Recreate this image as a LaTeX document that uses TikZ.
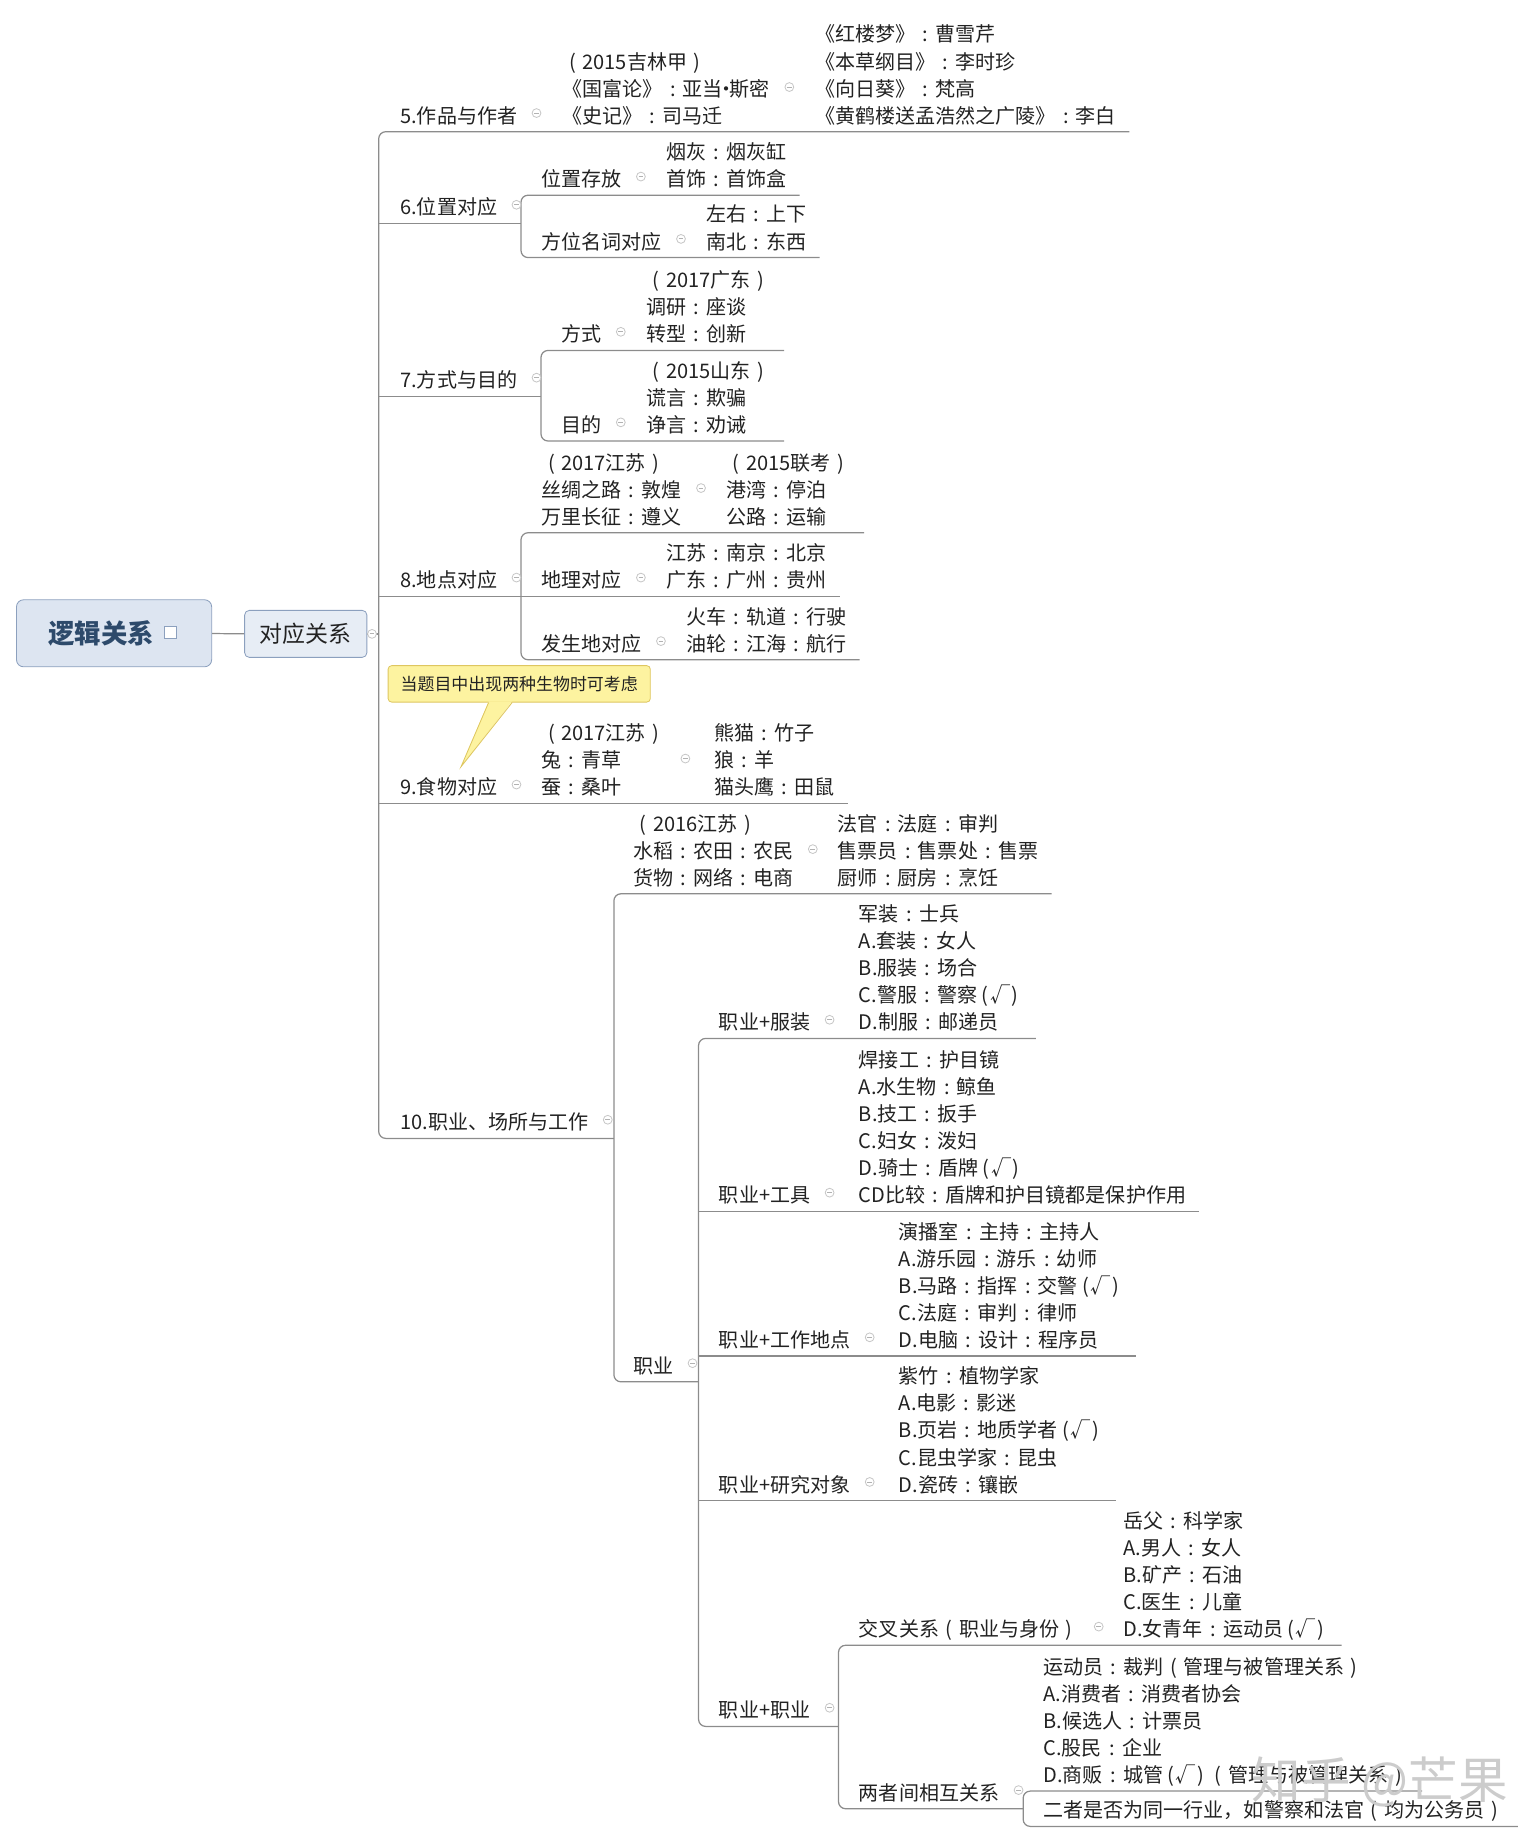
\documentclass[tikz,border=0pt]{standalone}
\usepackage{fontspec}
\setmainfont{Noto Sans CJK SC}
\usetikzlibrary{positioning,calc}
\definecolor{linec}{RGB}{140,140,140}
\definecolor{txt}{RGB}{34,34,34}
\definecolor{rootfill}{RGB}{221,229,241}
\definecolor{rootdraw}{RGB}{140,160,190}
\definecolor{rootink}{RGB}{45,74,107}
\definecolor{notefill}{RGB}{253,243,160}
\definecolor{notedraw}{RGB}{222,198,96}
% centred punctuation as in the mind map
\newcommand\cl{\makebox[1em]{:}}
\newcommand\lp{\makebox[1em]{(}}
\newcommand\rp{\makebox[1em]{)}}
\newcommand\ok{\makebox[0.75em]{(}\makebox[0.75em]{√}\makebox[0.75em]{)}}
\newcommand\mdot{\makebox[0.35em]{·}}

\begin{document}
\begin{tikzpicture}[x=0.02cm,y=-0.02cm,
    topic/.style={anchor=south west,align=left,inner xsep=0pt,inner ysep=0pt,text=txt,
      font=\fontsize{9.7}{13.1}\selectfont,execute at end node=\strut},
    fold/.style={circle,draw=black!22,fill=white,inner sep=0pt,minimum size=0.15cm,
      path picture={\draw[black!30,line width=0.4pt] ([xshift=-0.04cm]path picture bounding box.center) -- ([xshift=0.04cm]path picture bounding box.center);}},
    link/.style={draw=linec,line width=0.6pt,rounded corners=0.12cm},
    note/.style={draw=notedraw,fill=notefill,rounded corners=0.06cm,minimum width=4.46cm,minimum height=0.62cm,
      inner sep=0pt,text=txt,font=\fontsize{8.2}{10}\selectfont}]
  \useasboundingbox (0,0) rectangle (1303,1568);

  % root and first level
  \node[draw=rootdraw,fill=rootfill,rounded corners=0.12cm,minimum width=3.32cm,minimum height=1.14cm,
    text=rootink,font=\fontsize{12.8}{14}\selectfont\bfseries] (root) at (97,538.5) {逻辑关系\kern0.44cm};
  \node[draw=rootdraw,fill=white,minimum size=0.2cm,inner sep=0pt] (ricon) at (145,538) {};
  \node[draw=rootdraw,fill=rootfill!70!white,rounded corners=0.08cm,minimum width=2.08cm,minimum height=0.8cm,
    text=txt,font=\fontsize{11.1}{13}\selectfont] (sub) at (260,539) {对应关系};

  % junctions of the branches
  \coordinate (j0) at (322,539);
  \coordinate (j6) at (443,190);
  \coordinate (j7) at (460,337);
  \coordinate (j8) at (443,507);
  \coordinate (j10) at (522,968);
  \coordinate (j10b) at (594,1175);
  \coordinate (j11e) at (713,1468);
  \coordinate (j12b) at (870,1538);
  \coordinate (tipend) at (392,652);

  % 5
  \node[topic] (n5) at (340,112) {5.作品与作者};
  \node[topic] (n5a) at (478,112) {\lp 2015吉林甲\rp\\《国富论》\cl 亚当\mdot 斯密\\《史记》\cl 司马迁};
  \node[topic] (n5b) at (693,112) {《红楼梦》\cl 曹雪芹\\《本草纲目》\cl 李时珍\\《向日葵》\cl 梵高\\《黄鹤楼送孟浩然之广陵》\cl 李白};
  % 6
  \node[topic] (n6) at (340,190) {6.位置对应};
  \node[topic] (n6a) at (460,166) {位置存放};
  \node[topic] (n6a1) at (566,166) {烟灰\cl 烟灰缸\\首饰\cl 首饰盒};
  \node[topic] (n6b) at (460,219) {方位名词对应};
  \node[topic] (n6b1) at (600,219) {左右\cl 上下\\南北\cl 东西};
  % 7
  \node[topic] (n7) at (340,337) {7.方式与目的};
  \node[topic] (n7a) at (477,298) {方式};
  \node[topic] (n7a1) at (549,298) {\lp 2017广东\rp\\调研\cl 座谈\\转型\cl 创新};
  \node[topic] (n7b) at (477,375) {目的};
  \node[topic] (n7b1) at (549,375) {\lp 2015山东\rp\\谎言\cl 欺骗\\诤言\cl 劝诫};
  % 8
  \node[topic] (n8) at (340,507) {8.地点对应};
  \node[topic] (n8a) at (460,453) {\lp 2017江苏\rp\\丝绸之路\cl 敦煌\\万里长征\cl 遵义};
  \node[topic] (n8a1) at (617,453) {\lp 2015联考\rp\\港湾\cl 停泊\\公路\cl 运输};
  \node[topic] (n8b) at (460,507) {地理对应};
  \node[topic] (n8b1) at (566,507) {江苏\cl 南京\cl 北京\\广东\cl 广州\cl 贵州};
  \node[topic] (n8c) at (460,561) {发生地对应};
  \node[topic] (n8c1) at (583,561) {火车\cl 轨道\cl 行驶\\油轮\cl 江海\cl 航行};
  % 9
  \node[topic] (n9) at (340,683) {9.食物对应};
  \node[topic] (n9a) at (460,683) {\lp 2017江苏\rp\\兔\cl 青草\\蚕\cl 桑叶};
  \node[topic] (n9b) at (607,683) {熊猫\cl 竹子\\狼\cl 羊\\猫头鹰\cl 田鼠};
  % 10
  \node[topic] (n10) at (340,968) {10.职业、场所与工作};
  \node[topic] (n10a) at (538,760) {\lp 2016江苏\rp\\水稻\cl 农田\cl 农民\\货物\cl 网络\cl 电商};
  \node[topic] (n10a1) at (712,760) {法官\cl 法庭\cl 审判\\售票员\cl 售票处\cl 售票\\厨师\cl 厨房\cl 烹饪};
  \node[topic] (n10b) at (538,1175) {职业};
  \node[topic] (n11a) at (611,883) {职业+服装};
  \node[topic] (n11a1) at (730,883) {军装\cl 士兵\\A.套装\cl 女人\\B.服装\cl 场合\\C.警服\cl 警察\ok\\D.制服\cl 邮递员};
  \node[topic] (n11b) at (611,1030) {职业+工具};
  \node[topic] (n11b1) at (730,1030) {焊接工\cl 护目镜\\A.水生物\cl 鲸鱼\\B.技工\cl 扳手\\C.妇女\cl 泼妇\\D.骑士\cl 盾牌\ok\\CD比较\cl 盾牌和护目镜都是保护作用};
  \node[topic] (n11c) at (611,1153) {职业+工作地点};
  \node[topic] (n11c1) at (764,1153) {演播室\cl 主持\cl 主持人\\A.游乐园\cl 游乐\cl 幼师\\B.马路\cl 指挥\cl 交警\ok\\C.法庭\cl 审判\cl 律师\\D.电脑\cl 设计\cl 程序员};
  \node[topic] (n11d) at (611,1276) {职业+研究对象};
  \node[topic] (n11d1) at (764,1276) {紫竹\cl 植物学家\\A.电影\cl 影迷\\B.页岩\cl 地质学者\ok\\C.昆虫学家\cl 昆虫\\D.瓷砖\cl 镶嵌};
  \node[topic] (n11e) at (611,1468) {职业+职业};
  \node[topic] (n12a) at (730,1399) {交叉关系\lp 职业与身份\rp};
  \node[topic] (n12a1) at (955,1399) {岳父\cl 科学家\\A.男人\cl 女人\\B.矿产\cl 石油\\C.医生\cl 儿童\\D.女青年\cl 运动员\ok};
  \node[topic] (n12b) at (730,1538) {两者间相互关系};
  \node[topic] (n12b1) at (887,1523) {运动员\cl 裁判\lp 管理与被管理关系\rp\\A.消费者\cl 消费者协会\\B.候选人\cl 计票员\\C.股民\cl 企业\\D.商贩\cl 城管\ok\lp 管理与被管理关系\rp};
  \node[topic] (n12b2) at (887,1553) {二者是否为同一行业，如警察和法官\lp 均为公务员\rp};

  % connectors
  \draw[link] (root) -- (sub);
  \draw[link] (sub.east) -- (j0);
  \draw[link] ($(n5b.south east)+(11,0)$) -| (j0) |- (j10);
  \draw[link] (n6.south west -| j0) -- (j6);
  \draw[link] ($(n6a1.south east)+(11,0)$) -| (j6) |- ($(n6b1.south east)+(11,0)$);
  \draw[link] (n7.south west -| j0) -- (j7);
  \draw[link] ($(n7a1.south east)+(11,0)$) -| (j7) |- ($(n7b1.south east)+(11,0)$);
  \draw[link] (n8.south west -| j0) -- ($(n8b1.south east)+(11,0)$);
  \draw[link] ($(n8a1.south east)+(11,0)$) -| (j8) |- ($(n8c1.south east)+(11,0)$);
  \draw[link] (n9.south west -| j0) -- ($(n9b.south east)+(11,0)$);
  \draw[link] ($(n10a1.south east)+(11,0)$) -| (j10) |- (j10b);
  \draw[link] ($(n11a1.south east)+(11,0)$) -| (j10b) |- (j11e);
  \draw[link] (n11b.south west -| j10b) -- ($(n11b1.south east)+(11,0)$);
  \draw[link] (n11c.south west -| j10b) -- ($(n11c1.south east)+(11,0)$);
  \draw[link] (n11d.south west -| j10b) -- ($(n11d1.south east)+(11,0)$);
  \draw[link] ($(n12a1.south east)+(11,0)$) -| (j11e) |- (j12b);
  \draw[link] ($(n12b1.south east)+(11,0)$) -| (j12b) |- ($(n12b2.south east)+(11,0)$);

  % collapse markers
  \node[fold] (msub) at ([xshift=0.08cm]sub.east) {};
  \foreach \n in {n5,n5a,n6,n6a,n6b,n7,n7a,n7b,n8,n8a,n8b,n8c,n9,n9a,n10,n10a,n10b,
      n11a,n11b,n11c,n11d,n11e,n12a,n12b}
    \node[fold,right=0.24cm of \n,yshift=0.08cm] (m\n) {};

  % callout
  \node[note] (tip) at (441.5,581.5) {当题目中出现两种生物时可考虑};
  \fill[notefill] ($(tip.south)+(-26,-1)$) -- (tipend) -- ($(tip.south)+(-6,-1)$) -- cycle;
  \draw[notedraw] ($(tip.south)+(-26,0)$) -- (tipend) -- ($(tip.south)+(-6,0)$);

  \node[text=black!20,font=\fontsize{24}{24}\selectfont,anchor=west] (mark) at (1058,1515) {知乎 @芒果};
\end{tikzpicture}
\end{document}
